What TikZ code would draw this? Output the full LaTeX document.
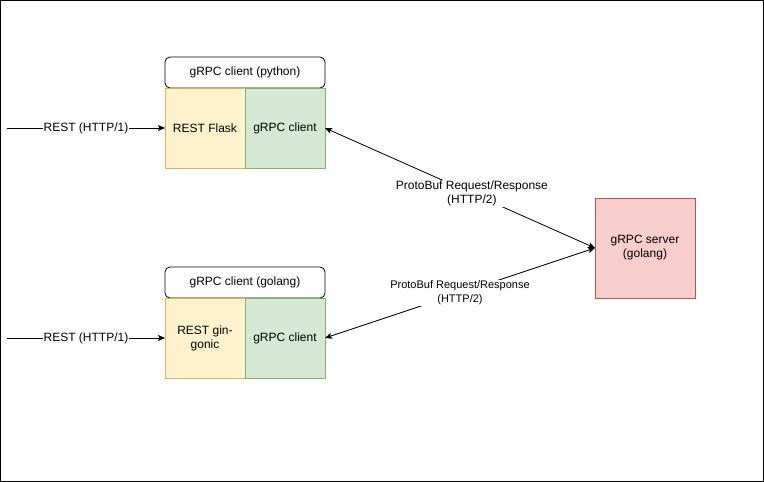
\documentclass[tikz,border=0pt]{standalone}
\usepackage{fontspec}
\setmainfont{Liberation Sans}
\usetikzlibrary{arrows.meta}
\definecolor{yfill}{HTML}{FFF2CC}
\definecolor{ydraw}{HTML}{D6B656}
\definecolor{gfill}{HTML}{D5E8D4}
\definecolor{gdraw}{HTML}{82B366}
\definecolor{rfill}{HTML}{F8CECC}
\definecolor{rdraw}{HTML}{B85450}
\tikzset{
  px/.style={x=1pt,y=-1pt},
  base/.style={inner sep=0pt,outer sep=0pt,align=center,font=\fontsize{12}{14}\selectfont,line width=0.8pt},
  titlebox/.style={base,draw=black,rounded corners=5pt,minimum width=160pt,minimum height=31pt},
  restbox/.style={base,draw=ydraw,fill=yfill,minimum width=80pt,minimum height=80pt},
  grpcbox/.style={base,draw=gdraw,fill=gfill,minimum width=80pt,minimum height=80pt},
  srvbox/.style={base,draw=rdraw,fill=rfill,minimum width=100pt,minimum height=100pt},
  conn/.style={line width=0.8pt,draw=black,-{Stealth[length=7pt,width=6pt,inset=1.5pt]}},
  bconn/.style={line width=0.8pt,draw=black,{Stealth[length=7pt,width=6pt,inset=1.5pt]}-{Stealth[length=7pt,width=6pt,inset=1.5pt]}},
  elabel/.style={fill=white,inner sep=1pt,align=center,font=\fontsize{12}{14}\selectfont},
  slabel/.style={fill=white,inner sep=1pt,align=center,font=\fontsize{11}{14}\selectfont},
}
\begin{document}
\begin{tikzpicture}[px]
\useasboundingbox (0,0) rectangle (764,482);
\draw[line width=1pt] (0.5,0.5) rectangle (763.5,481.5);
% python client
\node[titlebox] (t1) at (245,72.5) {gRPC client (python)};
\node[restbox] (r1) at (205,128) {REST Flask};
\node[grpcbox] (g1) at (285,128) {gRPC client};
% golang client
\node[titlebox] (t2) at (245,282.5) {gRPC client (golang)};
\node[restbox] (r2) at (205,338) {REST gin-\\gonic};
\node[grpcbox] (g2) at (285,338) {gRPC client};
% server
\node[srvbox] (s) at (645,248) {gRPC server\\(golang)};
% inputs
\coordinate (i1) at (7,128);
\coordinate (i2) at (7,338);
\draw[conn] (i1) -- node[elabel,pos=0.5]{REST (HTTP/1)} (r1.west);
\draw[conn] (i2) -- node[elabel,pos=0.5]{REST (HTTP/1)} (r2.west);
% grpc links
\draw[bconn] (g1.east) -- node[elabel,pos=0.544]{ProtoBuf Request/Response\\(HTTP/2)} (s.west);
\draw[bconn] (g2.east) -- node[slabel,pos=0.5]{ProtoBuf Request/Response\\(HTTP/2)} (s.west);
\end{tikzpicture}
\end{document}
